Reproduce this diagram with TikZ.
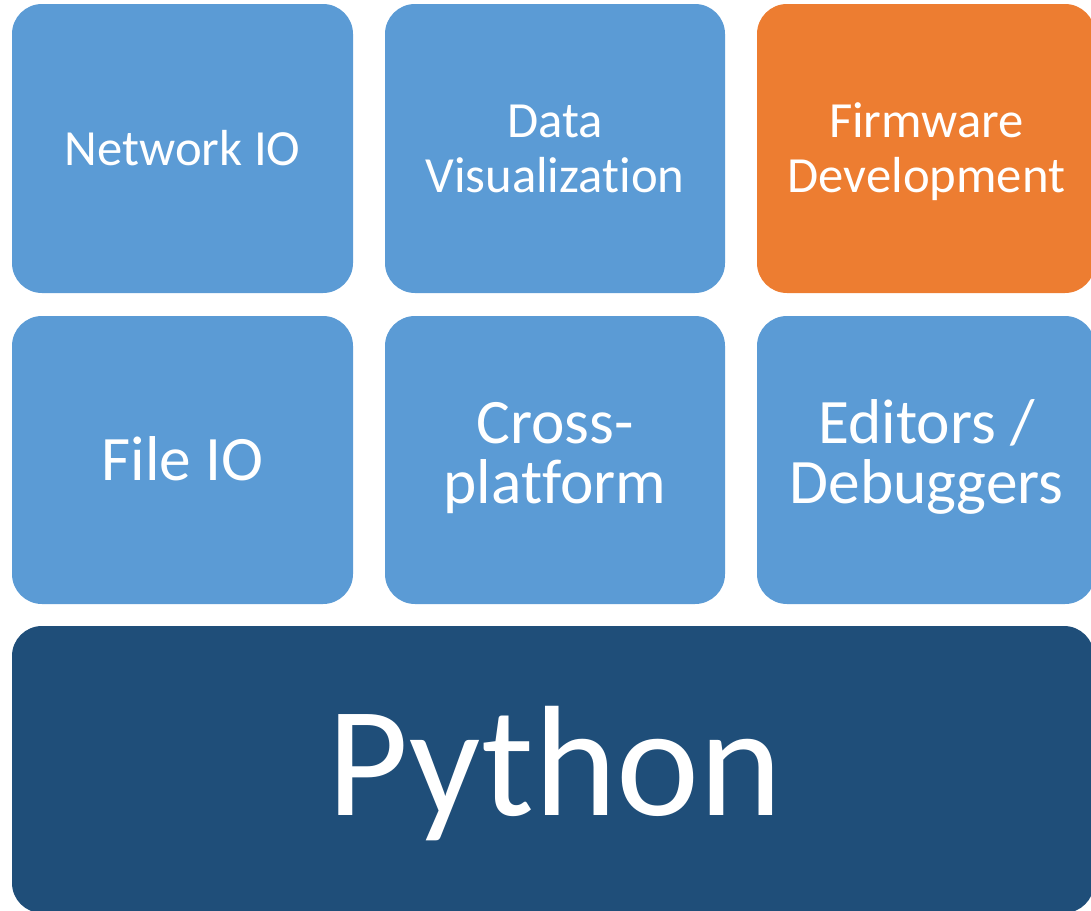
\documentclass[tikz,border=0pt]{standalone}
\usepackage{fontspec}
\setmainfont{Carlito}[Ligatures=NoCommon]
\definecolor{tileblue}{HTML}{5B9BD5}
\definecolor{tileorange}{HTML}{ED7D31}
\definecolor{basenavy}{HTML}{1F4E79}
\begin{document}
\begin{tikzpicture}[x=0.75pt,y=-0.75pt,
  tile/.style={fill=tileblue,rounded corners=22.5pt},
  lbl/.style={text=white,align=center,inner sep=0pt,anchor=base},
  small/.style={font=\fontsize{38}{41.25}\selectfont},
  mid/.style={font=\fontsize{47.5}{45}\selectfont}]
\useasboundingbox (0,0) rectangle (1091,910);
\clip (0,0) rectangle (1091,910);
% top row
\fill[tile] (12,4) rectangle (353,293);
\fill[tile] (385,4) rectangle (725,293);
\fill[tile,fill=tileorange] (757,4) rectangle (1095,293);
% middle row
\fill[tile] (12,316) rectangle (353,604);
\fill[tile] (385,316) rectangle (725,604);
\fill[tile] (757,316) rectangle (1095,604);
% base layer
\fill[tile,fill=basenavy] (12,626) rectangle (1094,913);
% labels (placed by the baseline of their last line)
\node[lbl,small] (net) at (182.5,165) {Network IO};
\node[lbl,small] (vis) at (555,192) {Data\\Visualization};
\node[lbl,small] (fw) at (926.5,192) {Firmware\\Development};
\node[lbl,mid] (file) at (182.5,480) {File IO};
\node[lbl,mid] (xp) at (555,503) {Cross-\\platform};
\node[lbl,mid] (ed) at (926.5,503) {Editors /\\Debuggers};
\node[lbl,font=\fontsize{118}{120}\selectfont] (py) at (555,815) {Python};
\end{tikzpicture}
\end{document}
